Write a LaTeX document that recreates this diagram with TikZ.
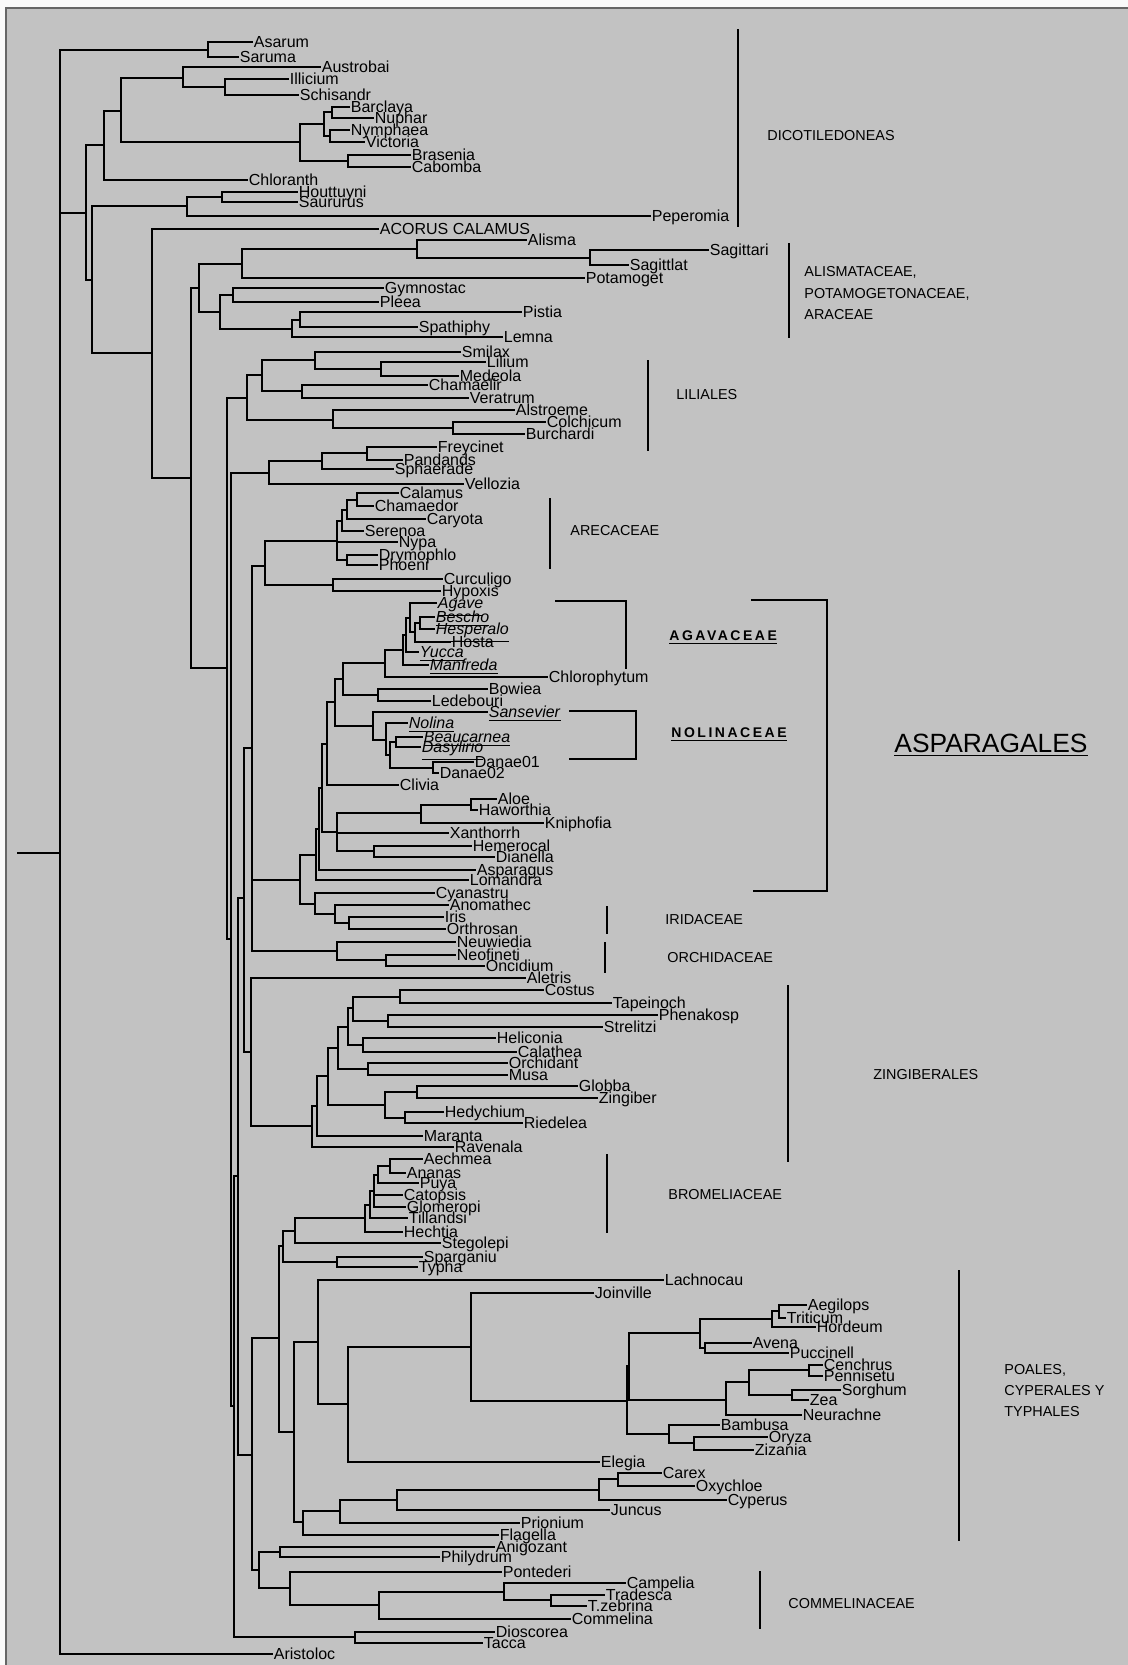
\documentclass[tikz,border=0pt]{standalone}
\usepackage{fontspec}
\setmainfont{Liberation Sans}
\newfontfamily\spfont{Liberation Sans}[LetterSpace=18]
\definecolor{bgc}{RGB}{194,194,194}
\newcommand{\leaffont}{\fontsize{8.0}{9}\selectfont}
\newcommand{\grpfont}{\fontsize{7.2}{8}\selectfont}
\newcommand{\ulit}[1]{\underline{\textit{#1}}}
\newcommand{\leafx}[4]{\coordinate (#1) at (#2,#3); \node[lab] (#1t) at (#2+1.5,#3+5.8) {#4};}
\tikzset{
  br/.style={line width=1.45pt, line cap=rect, line join=miter},
  lab/.style={anchor=base west, inner sep=0pt, font=\leaffont},
  grp/.style={anchor=base west, inner sep=0pt, font=\grpfont},
}
\begin{document}
\begin{tikzpicture}[x=0.5pt,y=-0.5pt]
\useasboundingbox (0,0) rectangle (1128,1665);
\fill[white!92!bgc] (0,0) rectangle (1128,1665);
\fill[bgc] (6,8) rectangle (1128,1665);
\draw[gray!80!black, line width=0.6pt] (6,1665) -- (6,8) -- (1128,8);

% ---------- internal nodes ----------
\foreach \n/\x/\y in {
 r0/18/853, root/60/853, asn/208/50, nA/86/213, nDic/104/145, n121/121/111,
 n183/183/78, n225/225/87, n300/300/142, n324/324/124, n332/332/112, n330/330/136,
 n348/348/161, nB/92/280, nPip/187/206, nHou/222/197, nC/152/353, nD/191/478,
 nAli/199/288, nAlis/242/264, nAl2/417/249, nSag/590/258, nAra/220/312, nGym/233/295,
 nPis/292/329, nPS/300/320, nE/227/668, nLil/247/398, n262/262/375, n315/315/360,
 n381/381/369, n302/302/391, n333/333/420, n453/453/428, nF/231/939, nPan/269/473,
 n322/322/461, n367/367/453, nQ/234/1406, nM/238/1176, nI/244/898, nG/252/748,
 nAre/265/566, nArc/337/541, n342/342/521, n347a/347/510, n357/357/500, n347b/347/560,
 nCH/333/585, nAsp/300/880, nA3/316/855, nA2/319/829, nA1/322/788, nXa/337/832,
 n421/421/813, n471/471/805, n374/374/851, n327/327/744, n335/335/702, n343/343/679,
 n385/385/663, n403/403/650, n406/406/635, n410/410/618, n415/415/632, n420/420/623,
 n378/378/695, n373/373/726, n386/386/740, n390/390/755, n396/396/742, n433/433/768,
 nIri/315/904, n335i/335/914, n349/349/923, nOrc/337/951, n386o/386/960,
 nH/251/1052, nZ/312/1126, nZ2/317/1106, nZ3/328/1076, nZ4/338/1048, nZ5/348/1027,
 nZ6/353/1008, n400/400/997, n388/388/1021, n363/363/1045, n368/368/1069,
 n385z/385/1105, n417/417/1092, n405/405/1118,
 nL/252/1455, nK/279/1338, nBT/283/1246, nBS/295/1231, b5/365/1218, b4/370/1205,
 b3/374/1191, b2/378/1175, b1/390/1166, nST/337/1262,
 nPoa/294/1432, nPo1/318/1342, nEl/348/1404, nGr/471/1347, nG1/627/1401, nG2/629/1366,
 nPoo/700/1333, nTri/772/1319, nAT/779/1311, nAP/705/1348, nPan2/726/1400,
 n749/749/1382, n809/809/1370, n792/792/1395, nBEP/669/1434, n694/694/1443,
 nPo2/303/1522, n340/340/1511, n397/397/1500, n599/599/1490, n618/618/1479,
 nCom/259/1570, nAP2/280/1552, nPon/290/1588, n379/379/1605, n504/504/1592,
 n551/551/1600, nDT/355/1637}
 {\coordinate (\n) at (\x,\y);}

% ---------- leaves ----------
\leafx{asarum}{252}{42}{Asarum}
\leafx{saruma}{238}{57}{Saruma}
\leafx{austrobai}{320}{67}{Austrobai}
\leafx{illicium}{288}{79}{Illicium}
\leafx{schisandr}{298}{95}{Schisandr}
\leafx{barclaya}{349}{107}{Barclaya}
\leafx{nuphar}{373}{118}{Nuphar}
\leafx{nymphaea}{349}{130}{Nymphaea}
\leafx{victoria}{364}{142}{Victoria}
\leafx{brasenia}{410}{155}{Brasenia}
\leafx{cabomba}{410}{167}{Cabomba}
\leafx{chloranth}{247}{180}{Chloranth}
\leafx{houttuyni}{297}{192}{Houttuyni}
\leafx{saururus}{297}{202}{Saururus}
\leafx{peperomia}{650}{216}{Peperomia}
\leafx{acorus}{378}{229}{ACORUS CALAMUS}
\leafx{alisma}{526}{240}{Alisma}
\leafx{sagittari}{708}{250}{Sagittari}
\leafx{sagittlat}{628}{265}{Sagittlat}
\leafx{potamoget}{584}{278}{Potamoget}
\leafx{gymnostac}{383}{288}{Gymnostac}
\leafx{pleea}{378}{302}{Pleea}
\leafx{pistia}{521}{312}{Pistia}
\leafx{spathiphy}{417}{327}{Spathiphy}
\leafx{lemna}{502}{337}{Lemna}
\leafx{smilax}{460}{352}{Smilax}
\leafx{lilium}{485}{362}{Lilium}
\leafx{medeola}{458}{376}{Medeola}
\leafx{chamaelir}{427}{385}{Chamaelir}
\leafx{veratrum}{468}{398}{Veratrum}
\leafx{alstroeme}{514}{410}{Alstroeme}
\leafx{colchicum}{545}{422}{Colchicum}
\leafx{burchardi}{524}{434}{Burchardi}
\leafx{freycinet}{436}{447}{Freycinet}
\leafx{pandands}{402}{460}{Pandands}
\leafx{sphaerade}{393}{469}{Sphaerade}
\leafx{vellozia}{463}{484}{Vellozia}
\leafx{calamus}{398}{493}{Calamus}
\leafx{chamaedor}{373}{506}{Chamaedor}
\leafx{caryota}{425}{519}{Caryota}
\leafx{serenoa}{363}{531}{Serenoa}
\leafx{nypa}{397}{542}{Nypa}
\leafx{drymophlo}{377}{555}{Drymophlo}
\leafx{phoeni}{377}{565}{Phoeni}
\leafx{curculigo}{442}{579}{Curculigo}
\leafx{hypoxis}{440}{591}{Hypoxis}
\leafx{agave}{436}{603}{\ulit{Agave}}
\leafx{bescho}{434}{617}{\ulit{Bescho}}
\leafx{hesperalo}{434}{629}{\ulit{Hesperalo}}
\leafx{hosta}{450}{642}{Hosta}
\leafx{yucca}{418}{652}{\ulit{Yucca}}
\leafx{manfreda}{428}{665}{\ulit{Manfreda}}
\leafx{chlorophytum}{547}{677}{Chlorophytum}
\leafx{bowiea}{487}{689}{Bowiea}
\leafx{ledebouri}{430}{701}{Ledebouri}
\leafx{sansevier}{487}{712}{\ulit{Sansevier}}
\leafx{nolina}{407}{723}{\ulit{Nolina}}
\leafx{beaucarnea}{422}{737}{\ulit{Beaucarnea}}
\leafx{dasylirio}{420}{747}{\ulit{Dasylirio}}
\leafx{danaeA}{473}{762}{Danae01}
\leafx{danaeB}{438}{773}{Danae02}
\leafx{clivia}{398}{785}{Clivia}
\leafx{aloe}{496}{799}{Aloe}
\leafx{haworthia}{477}{810}{Haworthia}
\leafx{kniphofia}{543}{823}{Kniphofia}
\leafx{xanthorrh}{448}{833}{Xanthorrh}
\leafx{hemerocal}{471}{846}{Hemerocal}
\leafx{dianella}{494}{857}{Dianella}
\leafx{asparagus}{475}{870}{Asparagus}
\leafx{lomandra}{468}{880}{Lomandra}
\leafx{cyanastru}{434}{893}{Cyanastru}
\leafx{anomathec}{448}{905}{Anomathec}
\leafx{iris}{443}{917}{Iris}
\leafx{orthrosan}{445}{929}{Orthrosan}
\leafx{neuwiedia}{455}{942}{Neuwiedia}
\leafx{neofineti}{455}{955}{Neofineti}
\leafx{oncidium}{484}{966}{Oncidium}
\leafx{aletris}{525}{978}{Aletris}
\leafx{costus}{543}{990}{Costus}
\leafx{tapeinoch}{611}{1003}{Tapeinoch}
\leafx{phenakosp}{657}{1015}{Phenakosp}
\leafx{strelitzi}{602}{1027}{Strelitzi}
\leafx{heliconia}{495}{1038}{Heliconia}
\leafx{calathea}{516}{1052}{Calathea}
\leafx{orchidant}{507}{1063}{Orchidant}
\leafx{musa}{507}{1075}{Musa}
\leafx{globba}{577}{1086}{Globba}
\leafx{zingiber}{597}{1098}{Zingiber}
\leafx{hedychium}{443}{1112}{Hedychium}
\leafx{riedelea}{522}{1123}{Riedelea}
\leafx{maranta}{422}{1136}{Maranta}
\leafx{ravenala}{453}{1147}{Ravenala}
\leafx{aechmea}{422}{1159}{Aechmea}
\leafx{ananas}{405}{1173}{Ananas}
\leafx{puya}{418}{1183}{Puya}
\leafx{catopsis}{402}{1195}{Catopsis}
\leafx{glomeropi}{405}{1207}{Glomeropi}
\leafx{tillandsi}{407}{1218}{Tillandsi}
\leafx{hechtia}{402}{1232}{Hechtia}
\leafx{stegolepi}{440}{1243}{Stegolepi}
\leafx{sparganiu}{422}{1257}{Sparganiu}
\leafx{typha}{417}{1267}{Typha}
\leafx{lachnocau}{663}{1280}{Lachnocau}
\leafx{joinville}{593}{1293}{Joinville}
\leafx{aegilops}{806}{1305}{Aegilops}
\leafx{triticum}{785}{1318}{Triticum}
\leafx{hordeum}{815}{1327}{Hordeum}
\leafx{avena}{751}{1343}{Avena}
\leafx{puccinell}{788}{1353}{Puccinell}
\leafx{cenchrus}{822}{1365}{Cenchrus}
\leafx{pennisetu}{822}{1376}{Pennisetu}
\leafx{sorghum}{840}{1390}{Sorghum}
\leafx{zea}{808}{1400}{Zea}
\leafx{neurachne}{801}{1415}{Neurachne}
\leafx{bambusa}{719}{1425}{Bambusa}
\leafx{oryza}{767}{1437}{Oryza}
\leafx{zizania}{753}{1450}{Zizania}
\leafx{elegia}{599}{1462}{Elegia}
\leafx{carex}{661}{1473}{Carex}
\leafx{oxychloe}{694}{1486}{Oxychloe}
\leafx{cyperus}{726}{1500}{Cyperus}
\leafx{juncus}{609}{1510}{Juncus}
\leafx{prionium}{519}{1523}{Prionium}
\leafx{flagella}{498}{1535}{Flagella}
\leafx{anigozant}{494}{1547}{Anigozant}
\leafx{philydrum}{439}{1557}{Philydrum}
\leafx{pontederi}{501}{1572}{Pontederi}
\leafx{campelia}{625}{1583}{Campelia}
\leafx{tradesca}{604}{1595}{Tradesca}
\leafx{tzebrina}{586}{1606}{T.zebrina}
\leafx{commelina}{570}{1619}{Commelina}
\leafx{dioscorea}{494}{1632}{Dioscorea}
\leafx{tacca}{482}{1643}{Tacca}
\leafx{aristoloc}{272}{1654}{Aristoloc}

% ---------- branches ----------
\draw[br] (r0) -- (root);
\foreach \p/\c in {
 root/asn, root/nA, root/aristoloc, asn/asarum, asn/saruma,
 nA/nDic, nA/nB, nDic/n121, nDic/chloranth, n121/n183, n121/n300,
 n183/austrobai, n183/n225, n225/illicium, n225/schisandr,
 n300/n324, n300/n348, n324/n332, n324/n330, n332/barclaya, n332/nuphar,
 n330/nymphaea, n330/victoria, n348/brasenia, n348/cabomba,
 nB/nPip, nB/nC, nPip/nHou, nPip/peperomia, nHou/houttuyni, nHou/saururus,
 nC/acorus, nC/nD, nD/nAli, nD/nE, nAli/nAlis, nAli/nAra,
 nAlis/nAl2, nAlis/potamoget, nAl2/alisma, nAl2/nSag, nSag/sagittari, nSag/sagittlat,
 nAra/nGym, nAra/nPis, nGym/gymnostac, nGym/pleea, nPis/nPS, nPis/lemna,
 nPS/pistia, nPS/spathiphy,
 nE/nLil, nE/nF, nLil/n262, nLil/n333, n262/n315, n262/n302,
 n315/smilax, n315/n381, n381/lilium, n381/medeola, n302/chamaelir, n302/veratrum,
 n333/alstroeme, n333/n453, n453/colchicum, n453/burchardi,
 nF/nPan, nF/nQ, nPan/n322, nPan/vellozia, n322/n367, n322/sphaerade,
 n367/freycinet, n367/pandands,
 nQ/nM, nQ/nDT, nM/nI, nM/nL, nI/nG, nI/nH,
 nG/nAre, nG/nAsp, nG/nOrc, nAre/nArc, nAre/nCH,
 nArc/n342, nArc/nypa, nArc/n347b, n342/n347a, n342/serenoa,
 n347a/n357, n347a/caryota, n357/calamus, n357/chamaedor,
 n347b/drymophlo, n347b/phoeni, nCH/curculigo, nCH/hypoxis,
 nAsp/nA3, nAsp/nIri, nA3/nA2, nA3/lomandra, nA2/nA1, nA2/asparagus,
 nA1/n327, nA1/nXa, nXa/n421, nXa/xanthorrh, nXa/n374,
 n421/n471, n421/kniphofia, n471/aloe, n471/haworthia, n374/hemerocal, n374/dianella,
 n327/n335, n327/clivia, n335/n343, n335/n373, n343/n385, n343/n378,
 n385/n403, n385/chlorophytum, n403/n406, n403/manfreda, n406/n410, n406/yucca,
 n410/agave, n410/n415, n415/n420, n415/hosta, n420/bescho, n420/hesperalo,
 n378/bowiea, n378/ledebouri, n373/sansevier, n373/n386,
 n386/nolina, n386/n390, n390/n396, n390/n433,
 n396/beaucarnea, n396/dasylirio, n433/danaeA, n433/danaeB,
 nIri/cyanastru, nIri/n335i, n335i/anomathec, n335i/n349, n349/iris, n349/orthrosan,
 nOrc/neuwiedia, nOrc/n386o, n386o/neofineti, n386o/oncidium,
 nH/aletris, nH/nZ, nZ/nZ2, nZ/ravenala, nZ2/nZ3, nZ2/maranta,
 nZ3/nZ4, nZ3/n385z, nZ4/nZ5, nZ4/n368, nZ5/nZ6, nZ5/n363,
 nZ6/n400, nZ6/n388, n400/costus, n400/tapeinoch, n388/phenakosp, n388/strelitzi,
 n363/heliconia, n363/calathea, n368/orchidant, n368/musa,
 n385z/n417, n385z/n405, n417/globba, n417/zingiber, n405/hedychium, n405/riedelea,
 nL/nK, nL/nCom, nK/nBT, nK/nPoa, nBT/nBS, nBT/nST,
 nBS/b5, nBS/stegolepi, b5/b4, b5/hechtia, b4/b3, b4/tillandsi,
 b3/b2, b3/catopsis, b3/glomeropi, b2/b1, b2/puya, b1/aechmea, b1/ananas,
 nST/sparganiu, nST/typha,
 nPoa/nPo1, nPoa/nPo2, nPo1/lachnocau, nPo1/nEl, nEl/nGr, nEl/elegia,
 nGr/joinville, nGr/nG1, nG1/nG2, nG1/nBEP, nG2/nPoo, nG2/nPan2,
 nPoo/nTri, nPoo/nAP, nTri/nAT, nTri/hordeum, nAT/aegilops, nAT/triticum,
 nAP/avena, nAP/puccinell, nPan2/n749, nPan2/neurachne, n749/n809, n749/n792,
 n809/cenchrus, n809/pennisetu, n792/sorghum, n792/zea,
 nBEP/bambusa, nBEP/n694, n694/oryza, n694/zizania,
 nPo2/n340, nPo2/flagella, n340/n397, n340/prionium, n397/n599, n397/juncus,
 n599/n618, n599/cyperus, n618/carex, n618/oxychloe,
 nCom/nAP2, nCom/nPon, nAP2/anigozant, nAP2/philydrum,
 nPon/pontederi, nPon/n379, n379/n504, n379/commelina,
 n504/campelia, n504/n551, n551/tradesca, n551/tzebrina,
 nDT/dioscorea, nDT/tacca}
 {\draw[br] (\p) |- (\c);}

% ---------- group brackets ----------
\draw[br] (738,30) -- (738,226);
\draw[br] (789,244) -- (789,337);
\draw[br] (648,361) -- (648,450);
\draw[br] (550,499) -- (550,568);
\draw[br] (556,601) -- (626,601) -- (626,668);
\draw[br] (570,711) -- (636,711) -- (636,759) -- (570,759);
\draw[br] (752,600) -- (827,600) -- (827,891) -- (754,891);
\draw[br] (607,907) -- (607,933);
\draw[br] (605,943) -- (605,972);
\draw[br] (788,986) -- (788,1161);
\draw[br] (607,1155) -- (607,1232);
\draw[br] (959,1271) -- (959,1540);
\draw[br] (760,1572) -- (760,1628);

% ---------- group labels ----------
\node[grp] (gdic) at (767,140) {DICOTILEDONEAS};
\node[grp] (gali1) at (804,276) {ALISMATACEAE,};
\node[grp] (gali2) at (804,298) {POTAMOGETONACEAE,};
\node[grp] (gali3) at (804,319) {ARACEAE};
\node[grp] (glil) at (676,399) {LILIALES};
\node[grp] (gare) at (570,535) {ARECACEAE};
\node[anchor=base west, inner sep=0pt, font=\spfont\bfseries\fontsize{7.0}{8}\selectfont] (gaga) at (669,640) {\underline{AGAVACEAE}};
\node[anchor=base west, inner sep=0pt, font=\spfont\bfseries\fontsize{7.0}{8}\selectfont] (gnol) at (671,737) {\underline{NOLINACEAE}};
\node[anchor=base west, inner sep=0pt, font=\fontsize{13.2}{15}\selectfont] (gasp) at (894,752) {\underline{ASPARAGALES}};
\node[grp] (giri) at (665,924) {IRIDACEAE};
\node[grp] (gorc) at (667,962) {ORCHIDACEAE};
\node[grp] (gzin) at (873,1079) {ZINGIBERALES};
\node[grp] (gbro) at (668,1199) {BROMELIACEAE};
\node[grp] (gpoa1) at (1004,1374) {POALES,};
\node[grp] (gpoa2) at (1004,1395) {CYPERALES Y};
\node[grp] (gpoa3) at (1004,1416) {TYPHALES};
\node[grp] (gcom) at (788,1608) {COMMELINACEAE};
\end{tikzpicture}
\end{document}
